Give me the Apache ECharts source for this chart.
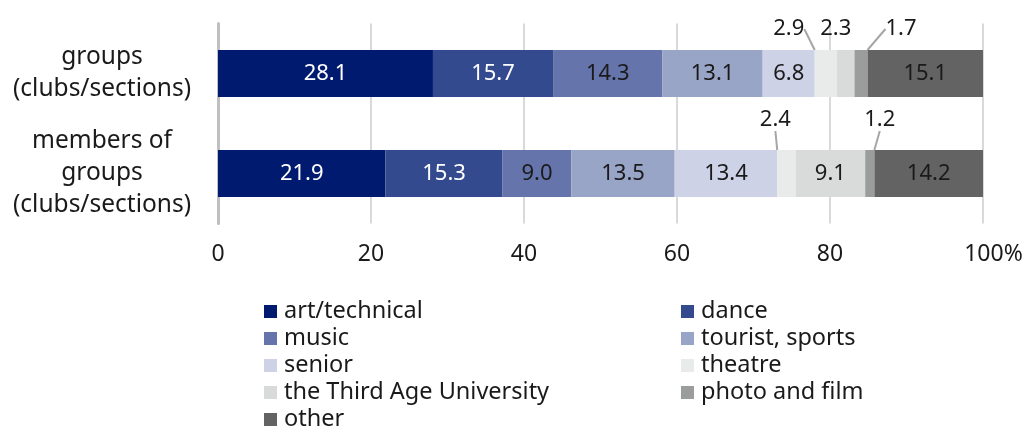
<!DOCTYPE html>
<html>
<head>
<meta charset="utf-8">
<script src="https://cdn.jsdelivr.net/npm/echarts@6/dist/echarts.min.js"></script>
<style>html,body{margin:0;padding:0;background:#fff}#c{width:1028px;height:427px}</style>
</head>
<body>
<div id="c"></div>
<script>
const categories = ['groups\n(clubs/sections)', 'members of\ngroups\n(clubs/sections)'];
const seriesNames = ['art/technical', 'dance', 'music', 'tourist, sports', 'senior', 'theatre', 'the Third Age University', 'photo and film', 'other'];
const artTechnical = [28.1, 21.9];
const dance = [15.7, 15.3];
const music = [14.3, 9.0];
const touristSports = [13.1, 13.5];
const senior = [6.8, 13.4];
const theatre = [2.9, 2.4];
const thirdAge = [2.3, 9.1];
const photoFilm = [1.7, 1.2];
const other = [15.1, 14.2];
const xTicks = [0, 20, 40, 60, 80, 100];

const values = [artTechnical, dance, music, touristSports, senior, theatre, thirdAge, photoFilm, other];
const colors = ['#001a70', '#334a8f', '#6574aa', '#99a5c7', '#cdd2e6', '#e9ebea', '#d9dbda', '#9b9d9c', '#636363'];
const labelColors = ['#ffffff', '#ffffff', '#1a1a1a', '#1a1a1a', '#1a1a1a', '#1a1a1a', '#1a1a1a', '#1a1a1a', '#1a1a1a'];
const FONT = 'Noto Sans';

// labels moved above the bar for small segments: [seriesIndex][dataIndex]
const outside = {
  5: {0: {dx: -37, dy: -6, line: true}, 1: {dx: -11, dy: -15, line: true}},
  6: {0: {dx: -10, dy: -6, line: false}},
  7: {0: {dx: 40, dy: -6, line: true}, 1: {dx: 10, dy: -15, line: true}}
};

const series = values.map((arr, si) => ({
  name: seriesNames[si],
  type: 'bar',
  stack: 'total',
  barWidth: 47,
  itemStyle: {color: colors[si]},
  data: arr.map((v, di) => {
    const o = outside[si] && outside[si][di];
    return {
      value: v,
      label: {
        show: true,
        position: o ? 'top' : 'inside',
        distance: 4,
        color: o ? '#1a1a1a' : labelColors[si],
        fontFamily: FONT,
        fontSize: 22,
        formatter: p => p.value.toFixed(1)
      },
      labelLine: {show: !!(o && o.line), lineStyle: {color: '#a6a6a6', width: 2}}
    };
  }),
  labelLayout: function (p) {
    const o = outside[si] && outside[si][p.dataIndex];
    if (!o) return {};
    return {dx: o.dx, dy: o.dy};
  },
  labelLine: {show: false, lineStyle: {color: '#a6a6a6', width: 2}},
  emphasis: {disabled: true}
}));

const legendText = {fontFamily: FONT, fontSize: 23.5, lineHeight: 27, color: '#1a1a1a', padding: [0, 0, 0, 2]};

const chart = echarts.init(document.getElementById('c'), null, {renderer: 'canvas'});
chart.setOption({
  animation: false,
  textStyle: {fontFamily: FONT},
  grid: {left: 218, right: 45, top: 23.5, height: 200},
  xAxis: {
    type: 'value', min: 0, max: 100, interval: 20,
    axisLine: {show: false}, axisTick: {show: false},
    splitLine: {show: true, lineStyle: {color: '#d9d9d9', width: 2}},
    axisLabel: {
      margin: 19, fontFamily: FONT, fontSize: 23, color: '#1a1a1a',
      formatter: v => xTicks.indexOf(v) < 0 ? '' : (v === 100 ? '{s|}100{p|%}' : String(v)),
      rich: {s: {width: 21}, p: {fontFamily: FONT, fontSize: 23, color: '#1a1a1a'}}
    }
  },
  yAxis: {
    type: 'category', inverse: true, data: categories,
    axisLine: {show: true, lineStyle: {color: '#bfbfbf', width: 3}},
    axisTick: {show: false},
    axisLabel: {margin: 116, align: 'center', fontFamily: FONT, fontSize: 24.5, lineHeight: 32, color: '#1a1a1a'}
  },
  legend: [
    {
      orient: 'vertical', left: 259, top: 293, height: 160,
      data: [seriesNames[0], seriesNames[2], seriesNames[4], seriesNames[6], seriesNames[8]],
      icon: 'rect', itemWidth: 13, itemHeight: 13, itemGap: 0,
      textStyle: legendText,
      selectedMode: false
    },
    {
      orient: 'vertical', left: 676, top: 293, height: 160,
      data: [seriesNames[1], seriesNames[3], seriesNames[5], seriesNames[7]],
      icon: 'rect', itemWidth: 13, itemHeight: 13, itemGap: 0,
      textStyle: legendText,
      selectedMode: false
    }
  ],
  series: series
});
</script>
</body>
</html>
